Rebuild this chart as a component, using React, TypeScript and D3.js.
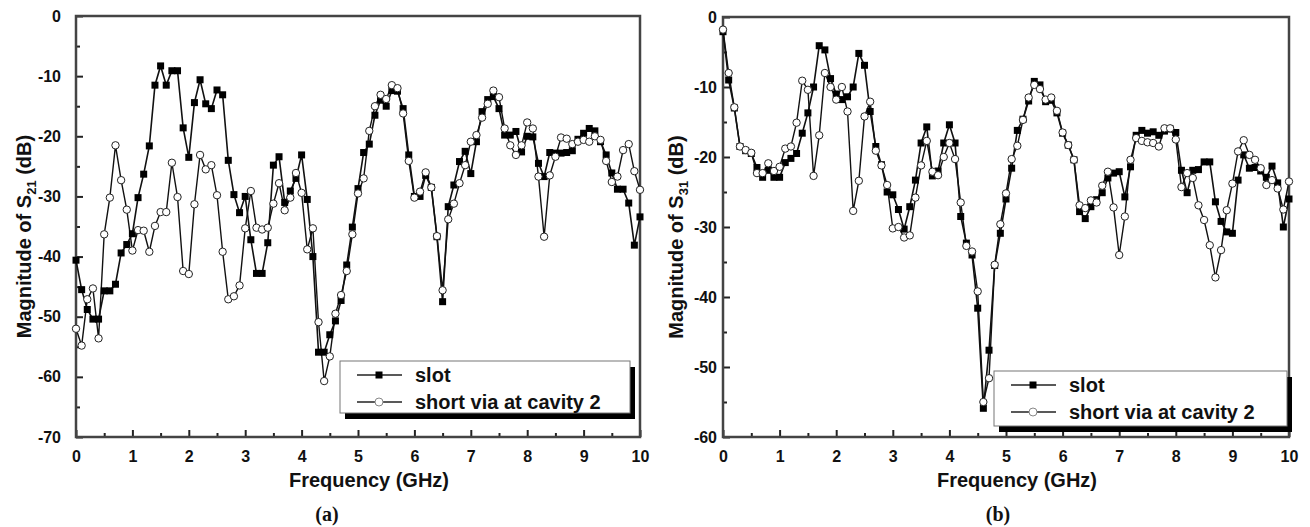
import React, { useEffect, useRef } from "react";
import * as d3 from "d3";

// frequency grid, 0 .. 10 GHz in 0.1 steps
const freqs = d3.range(0, 101).map(i => i / 10);

// (a) |S21| in dB
const s21Slot = [
  -40.6, -45.5, -48.8, -50.4, -50.4, -45.7, -45.7, -44.6, -39.4, -38,
  -36.2, -30.2, -26.3, -21.6, -11.5, -8.3, -11.5, -9.1, -9.1, -18.6,
  -23.5, -14.4, -10.6, -14.6, -15.4, -12.3, -13.1, -24, -29.7, -32.7,
  -30, -37.2, -42.8, -42.8, -37.7, -24.8, -23.4, -31, -29.1, -27,
  -23.1, -30.5, -40, -55.9, -55.9, -53, -50.7, -47.3, -41.4, -35.1,
  -28.7, -22.7, -21.3, -16.5, -14, -15, -12.4, -12.5, -15.4, -23.1,
  -30, -30, -26.5, -28.5, -36.7, -47.5, -31.7, -28.1, -24.2, -22.5,
  -26.2, -20.9, -15.9, -13.9, -13.4, -15.4, -19.8, -19.8, -19.2, -22.6,
  -20, -20.1, -24.5, -26.7, -22.7, -22.8, -22.8, -22.7, -22.4, -20.5,
  -19.5, -18.7, -19.1, -20.9, -23.1, -26.1, -28.8, -28.8, -31.1, -38.1,
  -33.4,
];
const s21Via = [
  -52, -54.8, -47.1, -45.3, -53.6, -36.3, -30.2, -21.5, -27.3, -32.2,
  -39, -35.6, -35.7, -39.2, -34.9, -32.6, -32.6, -24.4, -30.1, -42.4,
  -42.9, -31.3, -23.1, -25.5, -24.8, -29.8, -39.2, -47.1, -46.6, -44.8,
  -35.3, -29.1, -35.2, -35.5, -35.2, -31.2, -27.8, -32.3, -30.2, -26.1,
  -29.4, -38.8, -35.3, -50.9, -60.7, -56.6, -49.5, -46.4, -42.4, -36.3,
  -29.5, -27, -19.1, -15, -13.1, -13.8, -11.5, -12, -16.2, -24.1,
  -30.2, -29.2, -26, -28.5, -36.6, -45.6, -33.8, -31.2, -27.8, -24.8,
  -20.9, -19.8, -16.9, -14.6, -12.4, -13.5, -18.7, -21.5, -23.1, -21.5,
  -17.7, -18.7, -26.7, -36.7, -26.5, -23.4, -20.2, -20.4, -21.3, -20.9,
  -20.6, -20.9, -20, -20.6, -24.1, -27.6, -26.7, -22.3, -21.3, -25.8,
  -28.9,
];

// (b) |S31| in dB
const s31Slot = [
  -2.1, -9, -13, -18.5, -19.1, -19.5, -21.5, -22.9, -21.9, -22.9,
  -22.9, -20.8, -20.2, -19.5, -16.6, -13.7, -10, -4.1, -4.7, -8.8,
  -11, -11.8, -11.4, -10, -5.2, -6.9, -13.5, -18.5, -21.1, -25,
  -25.4, -27.5, -30.3, -27.1, -23.3, -18, -15.7, -22.7, -22, -18,
  -15.4, -18, -28.5, -32.3, -34, -41.6, -55.9, -47.6, -35.5, -30.9,
  -26, -21.6, -16.2, -14.6, -12, -9.2, -9.7, -12.1, -11.9, -13.7,
  -16.6, -18.3, -20.4, -27.8, -28.8, -27.1, -26.1, -25.1, -23, -22.3,
  -22.1, -25.7, -21.4, -16.9, -16.2, -16.6, -16.4, -16.9, -16.3, -16,
  -16.5, -21.9, -25.1, -21.9, -21.8, -20.7, -20.7, -26.4, -29.2, -30.7,
  -30.9, -23.3, -19.7, -21.6, -21.5, -22, -22.9, -21.3, -23.7, -30,
  -26,
];
const s31Via = [
  -1.8, -8, -12.9, -18.5, -19, -19.4, -22.3, -22.3, -20.9, -22,
  -21.4, -18.8, -18.5, -15.1, -9.1, -10.4, -22.7, -16.9, -8, -10,
  -11.8, -10, -13.5, -27.7, -23.4, -14.2, -12.1, -19.1, -21.2, -24,
  -30.2, -30, -31.5, -31.2, -25.8, -21.2, -17.7, -22.1, -22.6, -20,
  -18, -20.3, -26.5, -32.7, -33.5, -39.2, -55, -51.6, -35.4, -29.6,
  -25.2, -20.3, -18.4, -14.7, -11.5, -9.7, -10.3, -11.8, -11.5, -13.4,
  -16.5, -18.3, -20.4, -26.9, -27.3, -26.2, -26.5, -24.1, -22.1, -27.2,
  -34, -28.5, -20.4, -17.3, -17.7, -17.9, -18, -18.5, -15.9, -15.9,
  -17.5, -24.3, -22.3, -23, -26.9, -29, -32.6, -37.2, -33.3, -27.6,
  -23.8, -19.2, -17.6, -19.7, -20.4, -21.6, -24, -23.3, -24.5, -27.5,
  -23.5,
];

const xTicks = d3.range(0, 11);
const yTicksA = d3.range(-70, 1, 10);
const yTicksB = d3.range(-60, 1, 10);
const legendLabels = ["slot", "short via at cavity 2"];

const FONT = "'Liberation Sans', Arial, sans-serif";

const App = () => {
  const ref = useRef(null);

  useEffect(() => {
    const svg = d3.select(ref.current);
    svg.selectAll("*").remove();

    const drawPanel = (opts) => {
      const { left, right, top, bottom, yMin, yTicks, slot, via, sub, caption, legend } = opts;

      const x = d3.scaleLinear().domain([0, 10]).range([left, right]);
      const y = d3.scaleLinear().domain([yMin, 0]).range([bottom, top]);
      const g = svg.append("g");

      // minor ticks
      const xMinor = d3.range(0.5, 10, 1);
      const yMinor = d3.range(yMin + 5, 0, 10);

      g.append("g")
        .attr("transform", `translate(0,${bottom})`)
        .call(d3.axisBottom(x).tickValues(xMinor).tickSize(-4).tickFormat(() => ""))
        .call(a => a.select(".domain").remove())
        .selectAll("line").attr("stroke", "#222").attr("stroke-width", 2);

      g.append("g")
        .attr("transform", `translate(${left},0)`)
        .call(d3.axisLeft(y).tickValues(yMinor).tickSize(-4).tickFormat(() => ""))
        .call(a => a.select(".domain").remove())
        .selectAll("line").attr("stroke", "#222").attr("stroke-width", 2);

      const xAxis = g.append("g")
        .attr("transform", `translate(0,${bottom})`)
        .call(d3.axisBottom(x).tickValues(xTicks).tickSize(-7).tickPadding(14).tickFormat(d => String(d)));
      xAxis.select(".domain").remove();
      xAxis.selectAll("line").attr("stroke", "#222").attr("stroke-width", 2);
      xAxis.selectAll("text")
        .attr("fill", "#111")
        .style("font-family", FONT)
        .style("font-weight", "bold")
        .style("font-size", "16px");

      const yAxis = g.append("g")
        .attr("transform", `translate(${left},0)`)
        .call(d3.axisLeft(y).tickValues(yTicks).tickSize(-7).tickPadding(opts.yPad).tickFormat(d => String(d)));
      yAxis.select(".domain").remove();
      yAxis.selectAll("line").attr("stroke", "#222").attr("stroke-width", 2);
      yAxis.selectAll("text")
        .attr("fill", "#111")
        .style("font-family", FONT)
        .style("font-weight", "bold")
        .style("font-size", "16px");

      // frame
      g.append("rect")
        .attr("x", left).attr("y", top)
        .attr("width", right - left).attr("height", bottom - top)
        .attr("fill", "none").attr("stroke", "#444").attr("stroke-width", 2.5);

      const line = d3.line().x((d, i) => x(freqs[i])).y(d => y(d));

      // short via (circles)
      g.append("path").datum(via)
        .attr("d", line).attr("fill", "none").attr("stroke", "#111").attr("stroke-width", 1.4);
      // slot (squares)
      g.append("path").datum(slot)
        .attr("d", line).attr("fill", "none").attr("stroke", "#111").attr("stroke-width", 1.6);

      g.selectAll(".sq").data(slot).join("rect")
        .attr("x", (d, i) => x(freqs[i]) - 3.5)
        .attr("y", d => y(d) - 3.5)
        .attr("width", 7).attr("height", 7)
        .attr("fill", "#000");

      g.selectAll(".ci").data(via).join("circle")
        .attr("cx", (d, i) => x(freqs[i]))
        .attr("cy", d => y(d))
        .attr("r", 3.7)
        .attr("fill", "#fff").attr("stroke", "#222").attr("stroke-width", 1);

      // axis titles
      g.append("text")
        .attr("x", (left + right) / 2 + 11).attr("y", bottom + 50)
        .attr("text-anchor", "middle")
        .style("font-family", FONT).style("font-weight", "bold").style("font-size", "20px")
        .attr("fill", "#111")
        .text("Frequency (GHz)");

      const yt = g.append("text")
        .attr("transform", `translate(${opts.yTitleX},${(top + bottom) / 2 + 10}) rotate(-90)`)
        .attr("text-anchor", "middle")
        .style("font-family", FONT).style("font-weight", "bold").style("font-size", "20px")
        .attr("fill", "#111");
      yt.append("tspan").text("Magnitude of S");
      yt.append("tspan").attr("dy", 5).style("font-size", "13px").text(sub);
      yt.append("tspan").attr("dy", -5).text(" (dB)");

      g.append("text")
        .attr("x", caption.x).attr("y", caption.y)
        .attr("text-anchor", "middle")
        .style("font-family", "'Liberation Serif', 'Times New Roman', serif")
        .style("font-weight", "bold").style("font-size", "20px")
        .attr("fill", "#111")
        .text(caption.text);

      // legend
      const { lx, ly, lw, lh } = legend;
      g.append("rect")
        .attr("x", lx + 5).attr("y", ly + 6).attr("width", lw).attr("height", lh)
        .attr("fill", "#000");
      g.append("rect")
        .attr("x", lx).attr("y", ly).attr("width", lw).attr("height", lh)
        .attr("fill", "#fff").attr("stroke", "#777").attr("stroke-width", 1);

      legendLabels.forEach((lab, i) => {
        const cy = ly + (i === 0 ? 14 : 41);
        const x0 = lx + 17;
        g.append("line")
          .attr("x1", x0).attr("x2", x0 + 45).attr("y1", cy).attr("y2", cy)
          .attr("stroke", "#222").attr("stroke-width", 1.6);
        if (i === 0) {
          g.append("rect").attr("x", x0 + 22 - 3.5).attr("y", cy - 3.5)
            .attr("width", 7).attr("height", 7).attr("fill", "#000");
        } else {
          g.append("circle").attr("cx", x0 + 22).attr("cy", cy).attr("r", 4)
            .attr("fill", "#fff").attr("stroke", "#888").attr("stroke-width", 1);
        }
        g.append("text")
          .attr("x", x0 + 58).attr("y", cy + 7)
          .style("font-family", FONT).style("font-weight", "bold").style("font-size", "20px")
          .attr("fill", "#111")
          .text(lab);
      });
    };

    drawPanel({
      left: 76, right: 640, top: 16, bottom: 437, yMin: -70, yTicks: yTicksA,
      slot: s21Slot, via: s21Via, sub: "21", yTitleX: 31, yPad: 15,
      caption: { x: 327, y: 521, text: "(a)" },
      legend: { lx: 340, ly: 361, lw: 290, lh: 52 },
    });
    drawPanel({
      left: 723, right: 1289, top: 17, bottom: 437, yMin: -60, yTicks: yTicksB,
      slot: s31Slot, via: s31Via, sub: "31", yTitleX: 683, yPad: 6,
      caption: { x: 998, y: 521, text: "(b)" },
      legend: { lx: 994, ly: 371, lw: 293, lh: 55 },
    });
  }, []);

  return (
    <svg ref={ref} width={1310} height={527}
      style={{ position: "absolute", left: 0, top: 0, background: "#fff" }} />
  );
};

export default App;
